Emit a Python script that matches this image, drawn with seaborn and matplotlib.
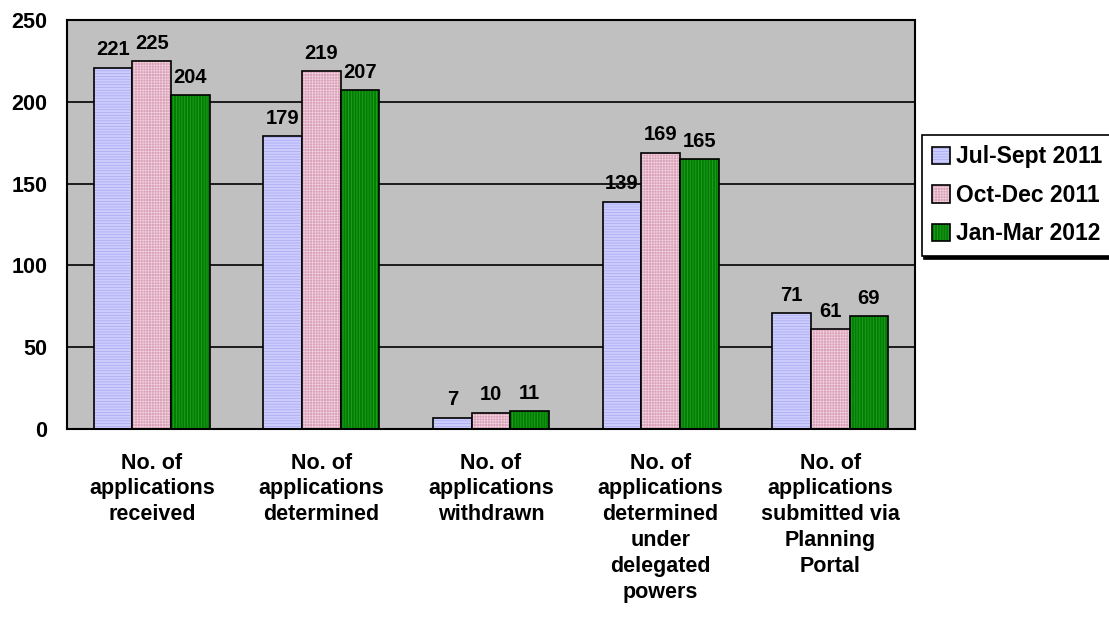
import pandas as pd
import numpy as np
import matplotlib
matplotlib.use('Agg')
import matplotlib.pyplot as plt
import seaborn as sns

categories = ['No. of\napplications\nreceived',
              'No. of\napplications\ndetermined',
              'No. of\napplications\nwithdrawn',
              'No. of\napplications\ndetermined\nunder\ndelegated\npowers',
              'No. of\napplications\nsubmitted via\nPlanning\nPortal']
periods = ['Jul-Sept 2011', 'Oct-Dec 2011', 'Jan-Mar 2012']
jul_sep_2011 = [221, 179, 7, 139, 71]
oct_dec_2011 = [225, 219, 10, 169, 61]
jan_mar_2012 = [204, 207, 11, 165, 69]

df = pd.DataFrame({'category': categories * 3,
                   'period': [periods[0]] * 5 + [periods[1]] * 5 + [periods[2]] * 5,
                   'value': jul_sep_2011 + oct_dec_2011 + jan_mar_2012})

sns.set_style('white')
plt.rcParams['font.family'] = ['Liberation Sans', 'DejaVu Sans']
plt.rcParams['font.weight'] = 'bold'
plt.rcParams['text.color'] = 'black'
plt.rcParams['xtick.color'] = 'black'
plt.rcParams['ytick.color'] = 'black'
plt.rcParams['hatch.linewidth'] = 0.5

colors = ['#CCCCFF', '#D9A0B8', '#008000']
hatches = ['------', '++++++', '||||||']
hatch_cols = ['#A8A8F0', '#F0D0DC', '#30A030']

fig = plt.figure(figsize=(11.09, 6.28), dpi=100)
ax = fig.add_axes([0.0604, 0.3169, 0.7647, 0.651])
ax.set_facecolor('#C0C0C0')

sns.barplot(data=df, x='category', y='value', hue='period', palette=colors,
            width=0.684, edgecolor='black', linewidth=1.2, ax=ax, legend=False,
            saturation=1)

# faint pattern lines inside the bars
for cont, h, hc in zip(ax.containers, hatches, hatch_cols):
    for bar in cont:
        bar.set_hatch(h)
        bar._hatch_color = matplotlib.colors.to_rgba(hc)

ax.set_ylim(0, 250)
ax.set_yticks(range(0, 251, 50))
ax.yaxis.grid(True, color='black', linewidth=1.2)
ax.set_axisbelow(True)
for s in ax.spines.values():
    s.set_color('black')
    s.set_linewidth(1.5)
ax.tick_params(axis='y', length=6, width=1.5, color='black', labelsize=15.5, pad=8)
ax.tick_params(axis='x', length=0, labelsize=15.5, pad=17)
for lab in ax.get_xticklabels() + ax.get_yticklabels():
    lab.set_fontweight('bold')
for lab in ax.get_xticklabels():
    lab.set_linespacing(1.3)
ax.set_xlabel('')
ax.set_ylabel('')

for cont in ax.containers:
    ax.bar_label(cont, padding=6, fontsize=14.5, fontweight='bold', color='black')

handles = [plt.Rectangle((0, 0), 1, 1, facecolor=c, edgecolor='black', linewidth=1.2,
                         hatch=h) for c, h in zip(colors, hatches)]
for hd, hc in zip(handles, hatch_cols):
    hd._hatch_color = matplotlib.colors.to_rgba(hc)
leg = fig.legend(handles, periods, loc='upper left', bbox_to_anchor=(0.831, 0.785),
                 frameon=True, fancybox=False, shadow={'color': 'black', 'alpha': 1},
                 prop={'size': 16.5, 'weight': 'bold'},
                 handlelength=0.8, handleheight=0.8, handletextpad=0.25,
                 labelspacing=0.68, borderpad=0.45, borderaxespad=0)
leg.get_frame().set_edgecolor('black')
leg.get_frame().set_linewidth(1.2)

fig.savefig('out.png', dpi=100)
